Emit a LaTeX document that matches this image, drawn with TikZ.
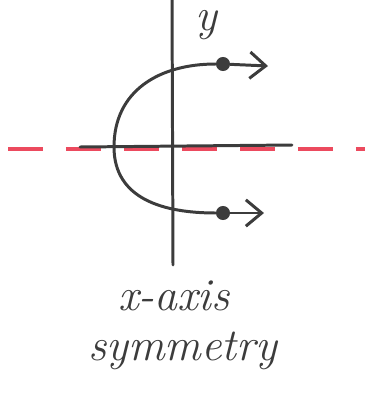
\documentclass[tikz,border=0pt]{standalone}
\usetikzlibrary{arrows.meta,calc,positioning}
\definecolor{lapiz}{HTML}{3C3C3C}
\definecolor{rojo}{HTML}{EC4A5E}
\tikzset{
  trazo/.style={lapiz,line width=1.7pt,line cap=round},
  punto/.style={circle,fill=lapiz,inner sep=0pt,minimum size=8pt},
  flecha/.style={trazo,-{Straight Barb[length=9pt,width=15pt,line width=1.7pt]}},
  letra/.style={lapiz,font=\fontsize{26}{30}\selectfont\itshape}
}
\begin{document}
\begin{tikzpicture}[x=0.02cm,y=-0.02cm]
\useasboundingbox (0,0) rectangle (365,396);

% red line of symmetry
\draw[rojo,line width=2pt,dash pattern=on 20pt off 13pt] (8,149) -- (365,149);

% axes
\coordinate (ytop) at (172,-5);
\coordinate (ybot) at (173,265);
\coordinate (xl) at (80,147);
\coordinate (xr) at (292,145);
\draw[trazo] (ytop) -- (ybot);
\draw[trazo] (xl) -- (xr);
\node[letra,anchor=base,inner sep=0pt] (ylab) at (206,30) {y};

% the curve
\node[punto] (arriba) at (223,64) {};
\node[punto] (abajo) at (223,213) {};
\coordinate (izq) at (114,147);
\coordinate (finA) at (268,66);
\coordinate (finB) at (264,213);
\draw[trazo] (arriba) to[out=180,in=90,looseness=1.1] (izq) to[out=-90,in=180,looseness=1.1] (abajo);
\draw[flecha] (arriba) -- (finA);
\draw[flecha] (abajo) -- (finB);

% caption
\node[letra] (cap1) at (174,296) {x-axis};
\node[letra,below=5pt of cap1,xshift=5pt] (cap2) {symmetry};

\end{tikzpicture}
\end{document}
